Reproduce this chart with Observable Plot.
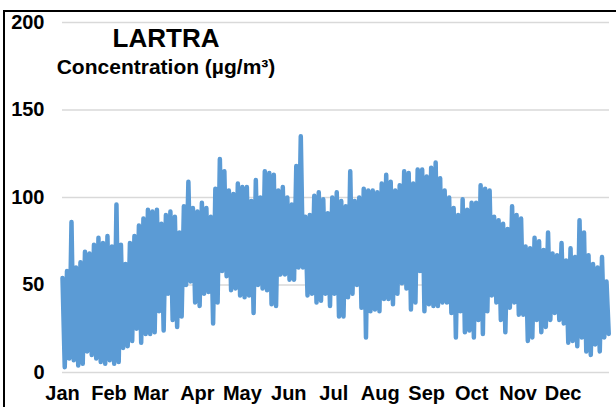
<!DOCTYPE html>
<html>
<head>
<meta charset="utf-8">
<script src="https://cdn.jsdelivr.net/npm/d3@7"></script>
<script src="https://cdn.jsdelivr.net/npm/@observablehq/plot@0.6"></script>
<style>
  html, body { margin: 0; padding: 0; background: #fff; overflow: hidden; }
  #wrap { position: relative; width: 616px; height: 407px; overflow: hidden; font-family: "Liberation Sans", Arial, sans-serif; }
  #frame { position: absolute; left: 3px; top: 10px; width: 800px; height: 600px; border-left: 2px solid #000; border-top: 2px solid #000; box-sizing: border-box; }
  .t { position: absolute; left: 36px; width: 260px; text-align: center; font-weight: bold; color: #000; line-height: 1; white-space: nowrap; }
  #title { top: 25px; font-size: 26px; }
  #subtitle { top: 56px; font-size: 21px; }
  #chart { position: absolute; left: 0; top: 0; }
</style>
</head>
<body>
<div id="wrap">
  <div id="chart"></div>
  <div id="frame"></div>
  <div class="t" id="title">LARTRA</div>
  <div class="t" id="subtitle">Concentration (µg/m³)</div>
</div>
<script>
// Monthly tick labels
const monthLabels = ["Jan","Feb","Mar","Apr","May","Jun","Jul","Aug","Sep","Oct","Nov","Dec"];
const yTicks = [0, 50, 100, 150, 200];

// Concentration, sampled every 3 days: peak (upper envelope) and trough (lower envelope)
const peaks = [
  54, 58, 86, 60, 63, 69, 68, 73, 77, 74, 78, 72, 96, 73, 62, 74, 78, 84, 88, 93,
  92, 93, 85, 90, 92, 89, 80, 95, 109, 94, 92, 97, 94, 89, 105, 122, 115, 104, 102, 108,
  106, 106, 98, 110, 100, 115, 114, 113, 104, 106, 100, 96, 118, 135, 89, 90, 101, 103, 99, 91,
  100, 103, 98, 95, 115, 98, 100, 105, 104, 104, 103, 108, 113, 109, 104, 107, 115, 114, 108, 116,
  116, 112, 117, 120, 111, 104, 100, 94, 90, 99, 93, 97, 97, 107, 105, 104, 89, 87, 85, 82,
  95, 90, 88, 72, 71, 77, 75, 70, 80, 68, 67, 74, 64, 71, 66, 87, 80, 67, 62, 60,
  66, 52
];
const troughs = [
  3, 8, 7, 4, 5, 12, 10, 8, 6, 5, 7, 5, 6, 14, 15, 18, 25, 17, 22, 22,
  23, 35, 24, 45, 30, 26, 32, 50, 52, 40, 38, 45, 46, 28, 40, 58, 55, 47, 48, 44,
  43, 44, 34, 50, 48, 47, 39, 38, 56, 56, 53, 53, 60, 60, 44, 45, 40, 41, 45, 38,
  45, 32, 32, 43, 45, 50, 37, 20, 35, 36, 35, 42, 42, 39, 45, 51, 48, 36, 40, 58,
  35, 39, 38, 38, 40, 40, 34, 20, 35, 23, 24, 20, 30, 22, 35, 44, 40, 30, 23, 37,
  40, 33, 33, 18, 20, 30, 23, 26, 30, 34, 30, 28, 17, 18, 15, 20, 12, 10, 16, 12,
  20, 22
];

const DAY = 864e5;
const STEP_DAYS = 3;
const start = Date.UTC(2019, 0, 1);
const end = Date.UTC(2020, 0, 1);

const data = peaks.flatMap((p, k) => [
  {date: new Date(start + k * STEP_DAYS * DAY), value: p},
  {date: new Date(start + (k * STEP_DAYS + STEP_DAYS / 2) * DAY), value: troughs[k]}
]);

const monthStarts = d3.utcMonth.range(new Date(start), new Date(end));

const chart = Plot.plot({
  width: 616,
  height: 407,
  marginLeft: 62,
  marginRight: 7,
  marginTop: 22,
  marginBottom: 35,
  style: {
    fontFamily: '"Liberation Sans", Arial, sans-serif',
    fontSize: "20px",
    fontWeight: "bold",
    color: "#000",
    background: "transparent",
    overflow: "visible"
  },
  x: {type: "utc", domain: [new Date(start), new Date(end)]},
  y: {domain: [0, 200]},
  marks: [
    Plot.gridY(yTicks, {stroke: "#d9d9d9", strokeOpacity: 1, strokeWidth: 1.5}),
    Plot.axisY({ticks: yTicks, tickSize: 0, tickPadding: 18, label: null, fill: "#000"}),
    Plot.axisX({ticks: monthStarts, tickFormat: d => monthLabels[d.getUTCMonth()], tickSize: 0, tickPadding: 13, label: null, fill: "#000"}),
    Plot.lineY(data, {x: "date", y: "value", stroke: "#5b9bd5", strokeWidth: 4.5, strokeLinejoin: "round", strokeLinecap: "round"})
  ]
});
document.getElementById("chart").appendChild(chart);
</script>
</body>
</html>
